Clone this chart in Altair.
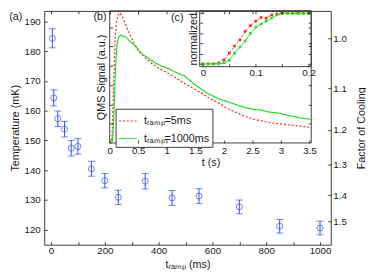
import json
import altair as alt
import pandas as pd

# ---------------- data ----------------
t_ramp_ms = [5, 10, 25, 50, 75, 100, 150, 200, 250, 350, 450, 550, 700, 850, 1000]
temperature_mK = [184.3, 164.3, 157.3, 153.8, 147.4, 148.0, 140.5, 136.5, 130.9,
                  136.3, 130.7, 131.3, 127.7, 121.2, 120.6]
temperature_err_mK = [3.2, 2.7, 2.6, 2.6, 2.6, 2.6, 2.5, 2.4, 2.4, 2.6, 2.5, 2.5, 2.3, 2.3, 2.3]

temperature_ticks = [120, 130, 140, 150, 160, 170, 180, 190]
t_ramp_ticks = [0, 100, 200, 300, 400, 500, 600, 700, 800, 900, 1000]
t_ramp_labels = [0, 200, 400, 600, 800, 1000]
t_ramp_top_ticks = [0, 100]
cooling_factor_ticks = [1.0, 1.1, 1.2, 1.3, 1.4, 1.5]

series_labels = ["tᵣₐₘₚ=5ms", "tᵣₐₘₚ=1000ms"]

qms_t_5ms = [0.00, 0.02, 0.04, 0.06, 0.08, 0.10, 0.12, 0.15, 0.18, 0.22, 0.27, 0.32, 0.38,
             0.45, 0.54, 0.65, 0.75, 0.87, 1.00, 1.15, 1.30, 1.45, 1.60, 1.75, 1.90, 2.05,
             2.20, 2.35, 2.50, 2.65, 2.80, 2.95, 3.10, 3.25, 3.40, 3.53]
qms_5ms = [0.00, 0.00, 0.05, 0.40, 0.85, 1.12, 1.26, 1.33, 1.35, 1.31, 1.24, 1.17, 1.09,
           1.01, 0.93, 0.87, 0.82, 0.77, 0.73, 0.68, 0.62, 0.57, 0.52, 0.46, 0.42, 0.36,
           0.32, 0.28, 0.25, 0.23, 0.21, 0.20, 0.19, 0.18, 0.17, 0.16]

qms_t_1000ms = [0.00, 0.03, 0.05, 0.07, 0.09, 0.11, 0.13, 0.16, 0.19, 0.23, 0.28, 0.33, 0.40,
                0.47, 0.54, 0.62, 0.70, 0.80, 0.90, 1.00, 1.10, 1.20, 1.30, 1.40, 1.50, 1.60,
                1.70, 1.80, 1.90, 2.00, 2.10, 2.20, 2.35, 2.50, 2.65, 2.80, 2.95, 3.10, 3.25,
                3.40, 3.53]
qms_1000ms = [0.00, 0.00, 0.03, 0.25, 0.60, 0.88, 1.03, 1.10, 1.12, 1.11, 1.10, 1.07, 1.03,
              0.99, 0.94, 0.90, 0.87, 0.83, 0.80, 0.78, 0.75, 0.72, 0.70, 0.65, 0.60, 0.56,
              0.52, 0.49, 0.46, 0.44, 0.42, 0.40, 0.37, 0.35, 0.34, 0.32, 0.31, 0.29, 0.27,
              0.255, 0.245]
qms_t_ticks = [0, 0.5, 1, 1.5, 2, 2.5, 3, 3.5]
qms_signal_ticks = [0.2, 0.4, 0.6, 0.8, 1.0, 1.2]

norm_t = [0.00, 0.01, 0.02, 0.03, 0.04, 0.05, 0.06, 0.07, 0.08, 0.09, 0.10,
          0.11, 0.12, 0.13, 0.14, 0.15, 0.16, 0.17, 0.18, 0.19, 0.20]
norm_5ms = [0.00, 0.00, 0.00, 0.02, 0.08, 0.21, 0.35, 0.47, 0.64, 0.75, 0.84,
            0.91, 0.90, 0.96, 0.98, 1.00, 1.00, 1.00, 1.00, 1.00, 0.99]
norm_1000ms = [0.00, 0.00, 0.00, 0.00, 0.02, 0.07, 0.21, 0.33, 0.45, 0.60, 0.72,
               0.78, 0.84, 0.90, 0.96, 0.99, 0.99, 0.99, 0.99, 0.99, 0.99]
norm_t_ticks = [0, 0.05, 0.1, 0.15, 0.2]
norm_t_labels = [0, 0.1, 0.2]
norm_ticks = [0, 0.2, 0.4, 0.6, 0.8, 1.0]

# ---------------- style / layout ----------------
W, H = 293, 239
BLUE = "#2a4dff"
RED = "#ff2020"
GREEN = "#22dd22"
FRAME = "#3a3a3a"
TXT = "#1a1a1a"
FONT = "Liberation Sans"
TK = 3  # inward tick length

x_main = alt.Scale(domain=[-25.5, 1040], nice=False, zero=False)
y_main = alt.Scale(domain=[115, 193.5], nice=False, zero=False)
qms_t_dom = [0, 3.53]
qms_s_dom = [0, 1.37]
B_L, B_R, B_B = 67, 273, 135
x_b = alt.Scale(domain=qms_t_dom, range=[B_L, B_R], nice=False, zero=False)
y_b = alt.Scale(domain=qms_s_dom, range=[B_B, 0], nice=False, zero=False)
norm_t_dom = [-0.006, 0.205]
norm_dom = [-0.055, 1.04]
C_L, C_R, C_B = 159, 273, 57
x_c = alt.Scale(domain=norm_t_dom, range=[C_L, C_R], nice=False, zero=False)
y_c = alt.Scale(domain=norm_dom, range=[C_B, 0], nice=False, zero=False)


def label_expr(shown, fmt):
    return f"indexof({json.dumps(shown)}, datum.value) >= 0 ? format(datum.value, '{fmt}') : ''"


def axis(orient, offset, values, **kw):
    base = dict(orient=orient, offset=offset, values=values, tickSize=TK, domain=False,
                grid=False, labelFlush=False, labelOverlap=False, tickColor=FRAME, zindex=1)
    base.update(kw)
    return alt.Axis(**base)


# ---------------- main panel (a) ----------------
df_main = pd.DataFrame({"t": t_ramp_ms, "T": temperature_mK, "e": temperature_err_mK})
df_main["lo"] = df_main["T"] - df_main["e"]
df_main["hi"] = df_main["T"] + df_main["e"]
T0 = temperature_mK[0]

pts = alt.Chart(df_main).mark_point(shape="circle", size=38, color=BLUE, strokeWidth=1,
                                    filled=False).encode(
    x=alt.X("t:Q", scale=x_main,
            axis=axis("bottom", -TK, t_ramp_ticks, labelExpr=label_expr(t_ramp_labels, "d"),
                      labelPadding=1, title="tᵣₐₘₚ (ms)", titlePadding=3)),
    y=alt.Y("T:Q", scale=y_main,
            axis=axis("left", -TK, temperature_ticks, labelPadding=4,
                      title="Temperature (mK)", titlePadding=4)),
)

err = alt.Chart(df_main).mark_rule(color=BLUE, strokeWidth=1).encode(
    x=alt.X("t:Q", scale=x_main, axis=axis("top", -TK, t_ramp_top_ticks, labels=False, title=None)),
    y=alt.Y("lo:Q", scale=y_main,
            axis=axis("right", -TK, [T0 / f for f in cooling_factor_ticks],
                      labelExpr=f"format({T0} / datum.value, '.1f')", labelPadding=2,
                      title="Factor of Cooling", titleAngle=270, titlePadding=21)),
    y2="hi:Q",
)

caps = alt.Chart(df_main).transform_fold(["lo", "hi"], as_=["k", "v"]).mark_tick(
    orient="horizontal", size=7, thickness=1, color=BLUE).encode(
    x=alt.X("t:Q", scale=x_main, axis=None),
    y=alt.Y("v:Q", scale=y_main, axis=None),
)

# ---------------- inset (b) ----------------
df_b5 = pd.DataFrame({"t": qms_t_5ms, "s": qms_5ms, "series": series_labels[0]})
df_b1000 = pd.DataFrame({"t": qms_t_1000ms, "s": qms_1000ms, "series": series_labels[1]})

color_scale = alt.Scale(domain=series_labels, range=[RED, GREEN])
dash_scale = alt.Scale(domain=series_labels, range=[[2, 2], [1, 0]])
leg = alt.Legend(orient="none", legendX=73, legendY=100, title=None, symbolType="stroke",
                 symbolSize=324, symbolStrokeWidth=1, labelFontSize=11, labelFont=FONT,
                 labelColor=TXT, strokeColor=FRAME, fillColor="white", padding=3,
                 rowPadding=3, labelOffset=7, direction="vertical")

frame_b = alt.Chart(pd.DataFrame({"x0": [qms_t_dom[0]], "x1": [qms_t_dom[1]],
                                  "y0": [qms_s_dom[0]], "y1": [qms_s_dom[1]]})).mark_rect(
    filled=False, stroke=FRAME, strokeWidth=1).encode(
    x=alt.X("x0:Q", scale=x_b, axis=None), x2="x1:Q",
    y=alt.Y("y0:Q", scale=y_b, axis=None), y2="y1:Q")

b_red = alt.Chart(df_b5).mark_line(strokeWidth=1.2).encode(
    x=alt.X("t:Q", scale=x_b,
            axis=axis("bottom", B_B - H - TK, qms_t_ticks, format="~g", labelPadding=3,
                      title="t (s)", titlePadding=1)),
    y=alt.Y("s:Q", scale=y_b,
            axis=axis("left", -(B_L + TK), qms_signal_ticks, labels=False,
                      title="QMS Signal (a.u.)", titlePadding=3)),
    color=alt.Color("series:N", scale=color_scale, legend=leg),
    strokeDash=alt.StrokeDash("series:N", scale=dash_scale, legend=leg),
)
b_green = alt.Chart(df_b1000).mark_line(strokeWidth=1.2).encode(
    x=alt.X("t:Q", scale=x_b, axis=axis("top", -TK, qms_t_ticks, labels=False, title=None)),
    y=alt.Y("s:Q", scale=y_b,
            axis=axis("right", B_R - W - TK, qms_signal_ticks, labels=False, title=None)),
    color=alt.Color("series:N", scale=color_scale, legend=leg),
    strokeDash=alt.StrokeDash("series:N", scale=dash_scale, legend=leg),
)

# ---------------- inset (c) ----------------
df_c5 = pd.DataFrame({"t": norm_t, "n": norm_5ms})
df_c1000 = pd.DataFrame({"t": norm_t, "n": norm_1000ms})

frame_c = alt.Chart(pd.DataFrame({"x0": [norm_t_dom[0]], "x1": [norm_t_dom[1]],
                                  "y0": [norm_dom[0]], "y1": [norm_dom[1]]})).mark_rect(
    filled=False, stroke=FRAME, strokeWidth=1).encode(
    x=alt.X("x0:Q", scale=x_c, axis=None), x2="x1:Q",
    y=alt.Y("y0:Q", scale=y_c, axis=None), y2="y1:Q")

c_red = alt.Chart(df_c5).mark_line(color=RED, strokeWidth=1, strokeDash=[2, 2]).encode(
    x=alt.X("t:Q", scale=x_c,
            axis=axis("bottom", C_B - H - TK, norm_t_ticks,
                      labelExpr=label_expr(norm_t_labels, "~g"), labelPadding=1, title=None)),
    y=alt.Y("n:Q", scale=y_c,
            axis=axis("left", -(C_L + TK), norm_ticks, labels=False,
                      title="normalized", titlePadding=1)),
)
c_green = alt.Chart(df_c1000).mark_line(color=GREEN, strokeWidth=1).encode(
    x=alt.X("t:Q", scale=x_c, axis=axis("top", -TK, norm_t_ticks, labels=False, title=None)),
    y=alt.Y("n:Q", scale=y_c,
            axis=axis("right", C_R - W - TK, norm_ticks, labels=False, title=None)),
)
c_red_pts = alt.Chart(df_c5).mark_square(color=RED, size=7, opacity=1).encode(
    x=alt.X("t:Q", scale=x_c, axis=None), y=alt.Y("n:Q", scale=y_c, axis=None))
c_green_pts = alt.Chart(df_c1000).mark_square(color=GREEN, size=7, opacity=1).encode(
    x=alt.X("t:Q", scale=x_c, axis=None), y=alt.Y("n:Q", scale=y_c, axis=None))


# ---------------- panel labels ----------------
def plabel(text, px, py):
    return alt.Chart(pd.DataFrame({"lab": [text]})).mark_text(
        fontSize=11, font=FONT, color=TXT, align="center", baseline="middle").encode(
        text="lab:N", x=alt.value(px), y=alt.value(py))


chart = alt.layer(
    pts, err, caps,
    frame_b, b_red, b_green,
    frame_c, c_red, c_green, c_red_pts, c_green_pts,
    plabel("(a)", -29, 6.5), plabel("(b)", 57, 6.5), plabel("(c)", 136, 7),
).resolve_scale(
    x="independent", y="independent", color="shared", strokeDash="shared"
).resolve_axis(
    x="independent", y="independent"
).properties(
    width=W, height=H,
    autosize=alt.AutoSizeParams(type="none"),
    padding={"left": 37, "top": 0, "right": 36, "bottom": 28},
).configure_view(
    stroke=FRAME, strokeWidth=1
).configure_axis(
    labelFont=FONT, titleFont=FONT, labelFontSize=10, titleFontSize=11,
    labelColor=TXT, titleColor=TXT, titleFontWeight="normal"
)

chart.save("out.html", embed_options={"renderer": "svg", "actions": False})
